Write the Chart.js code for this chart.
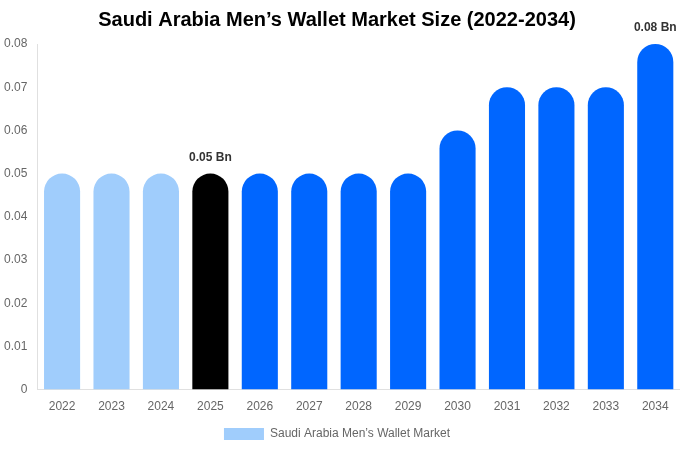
<!DOCTYPE html>
<html>
<head>
<meta charset="utf-8">
<script src="https://cdn.jsdelivr.net/npm/chart.js@4"></script>
<style>
    html, body { margin: 0; padding: 0; background: #fff; }
    #chartWrap { width: 680px; height: 450px; position: relative; }
</style>
</head>
<body>
<div id="chartWrap"><canvas id="chart"></canvas></div>
<script>
// Chart data
const years = ['2022', '2023', '2024', '2025', '2026', '2027', '2028', '2029', '2030', '2031', '2032', '2033', '2034'];
const marketSize = [0.05, 0.05, 0.05, 0.05, 0.05, 0.05, 0.05, 0.05, 0.06, 0.07, 0.07, 0.07, 0.08];
const labelledYears = ['2025', '2034'];
const yTicks = [0, 0.01, 0.02, 0.03, 0.04, 0.05, 0.06, 0.07, 0.08];

const colorMap = {
    history: '#a0cdfc',
    current: '#000000',
    forecast: '#0066ff'
};

const barColors = years.map(y => {
    if (y < '2025') return colorMap.history;
    if (y === '2025') return colorMap.current;
    return colorMap.forecast;
});

// Draws "x Bn" over selected bars
const valueLabels = {
    id: 'valueLabels',
    afterDatasetsDraw(chart) {
        const ctx = chart.ctx;
        const meta = chart.getDatasetMeta(0);
        ctx.save();
        ctx.font = 'bold 12px "Liberation Sans", Arial, sans-serif';
        ctx.fillStyle = '#333';
        ctx.textAlign = 'center';
        ctx.textBaseline = 'bottom';
        meta.data.forEach((bar, i) => {
            if (!labelledYears.includes(years[i])) return;
            ctx.fillText(marketSize[i].toFixed(2) + ' Bn', bar.x, bar.y - 10);
        });
        ctx.restore();
    }
};

new Chart(document.getElementById('chart').getContext('2d'), {
    type: 'bar',
    data: {
        labels: years,
        datasets: [{
            label: "Saudi Arabia Men\u2019s Wallet Market",
            data: marketSize,
            backgroundColor: barColors,
            borderRadius: { topLeft: 18, topRight: 18, bottomLeft: 0, bottomRight: 0 },
            borderSkipped: false,
            categoryPercentage: 0.73,
            barPercentage: 1.0
        }]
    },
    options: {
        responsive: true,
        maintainAspectRatio: false,
        animation: false,
        layout: { padding: { left: -6, right: 0, top: 0, bottom: 0 } },
        plugins: {
            title: {
                display: true,
                text: 'Saudi Arabia Men\u2019s Wallet Market Size (2022-2034)',
                color: '#000',
                font: { size: 20, weight: 'bold', family: '"Liberation Sans", Arial, sans-serif' },
                padding: { top: 8, bottom: 12 }
            },
            legend: {
                display: true,
                position: 'bottom',
                labels: {
                    boxWidth: 40,
                    boxHeight: 12,
                    padding: 4,
                    color: '#666',
                    font: { size: 12, family: '"Liberation Sans", Arial, sans-serif' },
                    generateLabels: chart => [{
                        text: chart.data.datasets[0].label,
                        fillStyle: colorMap.history,
                        strokeStyle: colorMap.history,
                        fontColor: '#666',
                        lineWidth: 0,
                        datasetIndex: 0
                    }]
                }
            },
            tooltip: { enabled: false }
        },
        scales: {
            x: {
                grid: { display: false, drawTicks: false },
                border: { display: true, color: '#e0e0e0' },
                ticks: {
                    color: '#666',
                    padding: 10,
                    font: { size: 12, family: '"Liberation Sans", Arial, sans-serif' }
                }
            },
            y: {
                min: 0,
                max: 0.08,
                afterBuildTicks: axis => { axis.ticks = yTicks.map(v => ({ value: v })); },
                grid: { display: false, drawTicks: false },
                border: { display: true, color: '#e0e0e0' },
                ticks: {
                    color: '#666',
                    padding: 10,
                    font: { size: 12, family: '"Liberation Sans", Arial, sans-serif' },
                    callback: value => value === 0 ? '0' : value.toFixed(2)
                }
            }
        }
    },
    plugins: [valueLabels]
});
</script>
</body>
</html>
